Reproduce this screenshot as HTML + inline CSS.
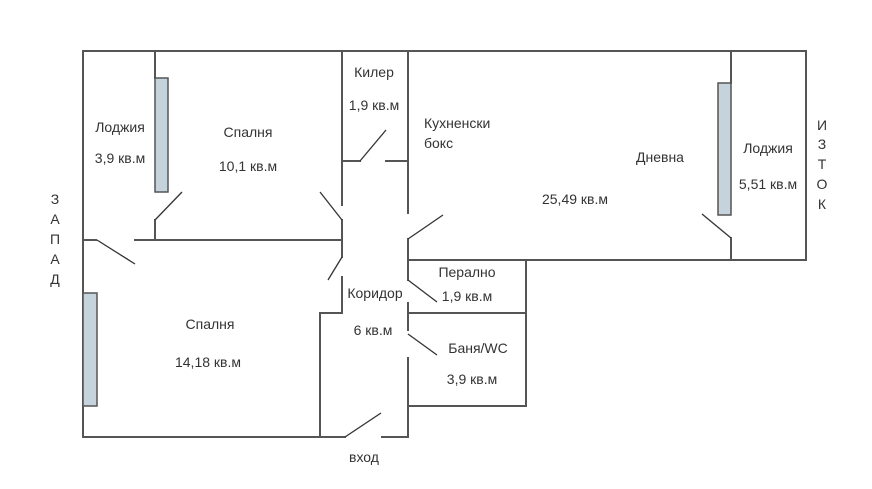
<!DOCTYPE html>
<html><head><meta charset="utf-8"><style>
html,body{margin:0;padding:0;background:#fff;width:872px;height:489px;overflow:hidden}
text{font-family:"Liberation Sans","DejaVu Sans",sans-serif;font-size:14px;fill:#333;text-anchor:middle}
</style></head><body>
<svg width="872" height="489" viewBox="0 0 872 489" xmlns="http://www.w3.org/2000/svg">
<g stroke="#555" stroke-width="2" fill="none" stroke-linecap="square">
<line x1="83" y1="51" x2="806" y2="51"/>
<line x1="83" y1="51" x2="83" y2="437"/>
<line x1="806" y1="51" x2="806" y2="260"/>
<line x1="408" y1="260" x2="806" y2="260"/>
<line x1="83" y1="437" x2="345" y2="437"/>
<line x1="382" y1="437" x2="408" y2="437"/>
<line x1="155" y1="51" x2="155" y2="78"/>
<line x1="155" y1="220" x2="155" y2="240"/>
<line x1="135" y1="240" x2="342" y2="240"/>
<line x1="83" y1="240" x2="96" y2="240"/>
<line x1="342" y1="51" x2="342" y2="205"/>
<line x1="342" y1="220" x2="342" y2="257"/>
<line x1="342" y1="277" x2="342" y2="313"/>
<line x1="320" y1="313" x2="342" y2="313"/>
<line x1="320" y1="313" x2="320" y2="437"/>
<line x1="342" y1="161" x2="360" y2="161"/>
<line x1="386" y1="161" x2="408" y2="161"/>
<line x1="408" y1="51" x2="408" y2="213"/>
<line x1="408" y1="239" x2="408" y2="280"/>
<line x1="408" y1="303" x2="408" y2="330"/>
<line x1="408" y1="358" x2="408" y2="437"/>
<line x1="526" y1="260" x2="526" y2="406"/>
<line x1="408" y1="313" x2="526" y2="313"/>
<line x1="408" y1="406" x2="526" y2="406"/>
<line x1="731" y1="51" x2="731" y2="83"/>
<line x1="731" y1="238" x2="731" y2="260"/>
</g>
<g stroke="#333" stroke-width="1.3" fill="none">
<line x1="155" y1="220" x2="182" y2="192"/>
<line x1="97" y1="240" x2="135" y2="264"/>
<line x1="320" y1="192" x2="342" y2="220"/>
<line x1="342" y1="257" x2="328" y2="280"/>
<line x1="360" y1="161" x2="386" y2="130"/>
<line x1="408" y1="239" x2="443" y2="215"/>
<line x1="408" y1="280" x2="437" y2="302"/>
<line x1="408" y1="334" x2="437" y2="355"/>
<line x1="345" y1="437" x2="381" y2="413"/>
<line x1="702" y1="214" x2="731" y2="238"/>
</g>
<g fill="#c5d3dd" stroke="#555" stroke-width="1.5">
<rect x="155" y="78" width="13" height="114"/>
<rect x="83" y="293" width="14" height="113"/>
<rect x="718" y="83" width="13" height="132"/>
</g>
<text x="120" y="132">Лоджия</text>
<text x="120" y="163">3,9 кв.м</text>
<text x="248" y="137">Спалня</text>
<text x="248" y="171">10,1 кв.м</text>
<text x="374" y="77">Килер</text>
<text x="374" y="110">1,9 кв.м</text>
<text x="424" y="128" style="text-anchor:start">Кухненски</text>
<text x="424" y="148" style="text-anchor:start">бокс</text>
<text x="660" y="162">Дневна</text>
<text x="575" y="204">25,49 кв.м</text>
<text x="768" y="153">Лоджия</text>
<text x="768" y="189">5,51 кв.м</text>
<text x="210" y="329">Спалня</text>
<text x="208" y="367">14,18 кв.м</text>
<text x="375" y="298">Коридор</text>
<text x="373" y="335">6 кв.м</text>
<text x="467" y="277">Перално</text>
<text x="467" y="301">1,9 кв.м</text>
<text x="478" y="353">Баня/WC</text>
<text x="472" y="384">3,9 кв.м</text>
<text x="364" y="462">вход</text>
<text x="55" y="204">З</text>
<text x="55" y="224">А</text>
<text x="55" y="244">П</text>
<text x="55" y="264">А</text>
<text x="55" y="284">Д</text>
<text x="822" y="130">И</text>
<text x="822" y="149">З</text>
<text x="822" y="169">Т</text>
<text x="822" y="189">О</text>
<text x="822" y="209">К</text>
</svg>
</body></html>
